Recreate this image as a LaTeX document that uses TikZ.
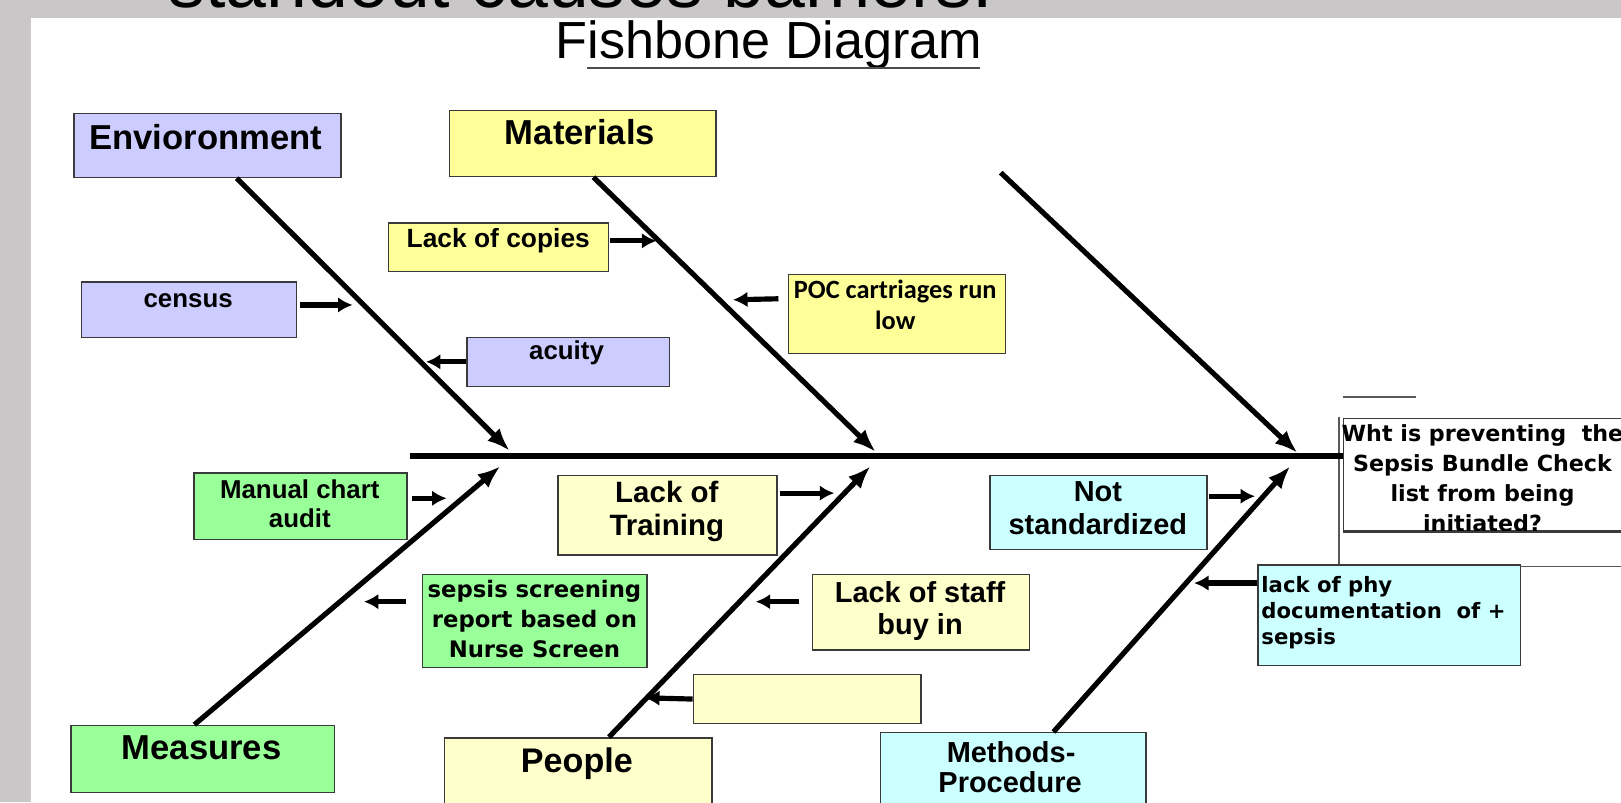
\documentclass[tikz,border=0pt]{standalone}
\usepackage{fontspec}
\setmainfont{Liberation Sans}
\newfontfamily\calibfont{Carlito}
\newfontfamily\verdfont{DejaVu Sans}
\usetikzlibrary{arrows.meta,calc}
\definecolor{bggray}{HTML}{C9C7C7}
\definecolor{boxedge}{HTML}{3A3A3A}
\definecolor{lav}{HTML}{CCCCFF}
\definecolor{yel}{HTML}{FFFF99}
\definecolor{lyel}{HTML}{FFFFCC}
\definecolor{grn}{HTML}{99FF99}
\definecolor{cyn}{HTML}{CCFFFF}
\newcommand\bx[6]{\node[box, fill=#6, minimum width={#4-#2}, minimum height={#5-#3}] (#1) at (#2,#3) {};}
\newcommand\fs[1]{\fontsize{#1}{#1}\selectfont}
\begin{document}
\begin{tikzpicture}[x=1pt,y=-1pt,
  box/.style={draw=boxedge, line width=1.4pt, inner sep=0pt, anchor=north west},
  lbl/.style={anchor=base, inner sep=0pt, font=\bfseries\fs{25}},
  bone/.style={line width=5pt, -{Latex[length=22pt,width=17pt]}},
  cause/.style={line width=5pt, -{Latex[length=14pt,width=15pt]}},
  frame/.style={line width=1.6pt, black!65}]
% background
\fill[bggray] (0,0) rectangle (1568,776);
\fill[white] (30,17) rectangle (1568,776);
\useasboundingbox (0,0) rectangle (1568,776);
\begin{scope}
  \clip (0,0) rectangle (1568,17);
  \node[anchor=base west, inner sep=0pt, font=\fs{71}] (hdr) at (163,7) {standout causes barriers:};
\end{scope}
% title
\node[anchor=base, inner sep=0pt, font=\fs{50.5}] (title) at (744,57) {Fishbone Diagram};
\draw[line width=2pt, black!70] (568,66) -- (948,66);
% frame lines near the head
\draw[frame] (1299,384) -- (1370,384);
\draw[frame] (1295,403) -- (1295,548) -- (1568,548);
% boxes
\bx{env}{71}{109}{329}{171}{lav}
\bx{mat}{434}{106}{692}{170}{yel}
\bx{copies}{375}{215}{588}{262}{yel}
\bx{census}{78}{272}{286}{326}{lav}
\bx{acuity}{451}{326}{647}{373}{lav}
\bx{poc}{762}{265}{972}{341}{yel}
\bx{manual}{187}{457}{393}{521}{grn}
\bx{train}{539}{459}{751}{536}{lyel}
\bx{notstd}{957}{459}{1167}{531}{cyn}
\bx{sepsis}{408}{555}{625}{645}{grn}
\bx{staff}{785}{555}{995}{628}{lyel}
\bx{empty}{670}{652}{890}{699}{lyel}
\bx{phy}{1216}{546}{1470}{643}{cyn}
\bx{meas}{68}{701}{323}{766}{grn}
\bx{people}{429}{713}{688}{800}{lyel}
\bx{methods}{851}{708}{1108}{800}{cyn}
\bx{q}{1299}{404}{1590}{513}{white}
% labels
\node[lbl, font=\bfseries\fs{33.5}] (envT) at (199,145) {Envioronment};
\node[lbl, font=\bfseries\fs{33.5}] (matT) at (561,140) {Materials};
\node[lbl, font=\bfseries\fs{25.5}] (copiesT) at (482,239) {Lack of copies};
\node[lbl] (censusT) at (182,297) {census};
\node[lbl] (acuityT) at (548,348) {acuity};
\node[lbl, font=\calibfont\bfseries\fs{25.5}] (pocA) at (866,289) {POC cartriages run};
\node[lbl, font=\calibfont\bfseries\fs{25.5}] (pocB) at (866,319) {low};
\node[lbl] (manA) at (290,482) {Manual chart};
\node[lbl] (manB) at (290,510) {audit};
\node[lbl, font=\bfseries\fs{28.5}] (trA) at (645,486) {Lack of};
\node[lbl, font=\bfseries\fs{28.5}] (trB) at (645,518) {Training};
\node[lbl, font=\bfseries\fs{28}] (nsA) at (1062,485) {Not};
\node[lbl, font=\bfseries\fs{28}] (nsB) at (1062,517) {standardized};
\node[lbl, font=\verdfont\bfseries\fs{22}] (sepA) at (517,578) {sepsis screening};
\node[lbl, font=\verdfont\bfseries\fs{22}] (sepB) at (517,607) {report based on};
\node[lbl, font=\verdfont\bfseries\fs{22}] (sepC) at (517,636) {Nurse Screen};
\node[lbl, font=\bfseries\fs{28}] (stA) at (890,583) {Lack of staff};
\node[lbl, font=\bfseries\fs{28}] (stB) at (890,614) {buy in};
\node[lbl, anchor=base west, font=\verdfont\bfseries\fs{20.5}] (phyA) at (1220,573) {lack of phy};
\node[lbl, anchor=base west, font=\verdfont\bfseries\fs{20.5}] (phyB) at (1220,598) {documentation\ \ of +};
\node[lbl, anchor=base west, font=\verdfont\bfseries\fs{20.5}] (phyC) at (1220,623) {sepsis};
\node[lbl, font=\bfseries\fs{33.5}] (measT) at (195,735) {Measures};
\node[lbl, font=\bfseries\fs{33}] (peopleT) at (558,747) {People};
\node[lbl, font=\bfseries\fs{28}] (metA) at (978,738) {Methods-};
\node[lbl, font=\bfseries\fs{28}] (metB) at (977,767) {Procedure};
\begin{scope}
  \clip (1299,404) rectangle (1590,513);
  \node[lbl, font=\verdfont\bfseries\fs{21.5}] (qA) at (1434,427) {Wht is preventing\ \ the};
  \node[lbl, font=\verdfont\bfseries\fs{21.5}] (qB) at (1434,456) {Sepsis Bundle Check};
  \node[lbl, font=\verdfont\bfseries\fs{21.5}] (qC) at (1434,485) {list from being};
  \node[lbl, font=\verdfont\bfseries\fs{21.5}] (qD) at (1434,514) {initiated?};
\end{scope}
\draw[boxedge, line width=1.4pt] (q.south west) -- (q.south east);
% spine
\coordinate (spL) at (397,441);
\draw[line width=6pt] (spL) -- (q.west |- spL);
% bones
\coordinate (tEnv) at (493,436);
\coordinate (tMat) at (847,437);
\coordinate (sThird) at (968,167);
\coordinate (tThird) at (1255,438);
\coordinate (tMeas) at (484,451);
\coordinate (tPeople) at (842,451);
\coordinate (tMet) at (1248,451);
\draw[bone] ($(env.south west)+(158,0)$) -- (tEnv);
\draw[bone] ($(mat.south west)+(140,0)$) -- (tMat);
\draw[bone] (sThird) -- (tThird);
\draw[bone] ($(meas.north west)+(120,0)$) -- (tMeas);
\draw[bone] ($(people.north west)+(160,0)$) -- (tPeople);
\draw[bone] ($(methods.north west)+(168,0)$) -- (tMet);
% cause arrows
\coordinate (aCensus) at (341,295);
\coordinate (aCopies) at (635,233);
\coordinate (aAcuity) at (412,350);
\coordinate (aPoc) at (709,290);
\coordinate (aManual) at (432,482);
\coordinate (aTrain) at (807,477);
\coordinate (aNotstd) at (1214,480);
\coordinate (aSepsis) at (352,582);
\coordinate (aStaff) at (731,582);
\coordinate (aEmpty) at (624,675);
\coordinate (aPhy) at (1155,564);
\draw[cause] ($(census.north east)+(3,23)$) -- (aCensus);
\draw[cause] ($(copies.north east)+(1,18)$) -- (aCopies);
\draw[cause] ($(acuity.north west)+(0,24)$) -- (aAcuity);
\draw[cause] ($(poc.north west)+(-9,24)$) -- (aPoc);
\draw[cause] ($(manual.north east)+(4,25)$) -- (aManual);
\draw[cause] ($(train.north east)+(2,18)$) -- (aTrain);
\draw[cause] ($(notstd.north east)+(1,21)$) -- (aNotstd);
\draw[cause] ($(sepsis.north west)+(-15,27)$) -- (aSepsis);
\draw[cause] ($(staff.north west)+(-12,27)$) -- (aStaff);
\draw[cause] (empty.west) -- (aEmpty);
\draw[cause] ($(phy.north west)+(0,18)$) -- (aPhy);
\end{tikzpicture}
\end{document}
